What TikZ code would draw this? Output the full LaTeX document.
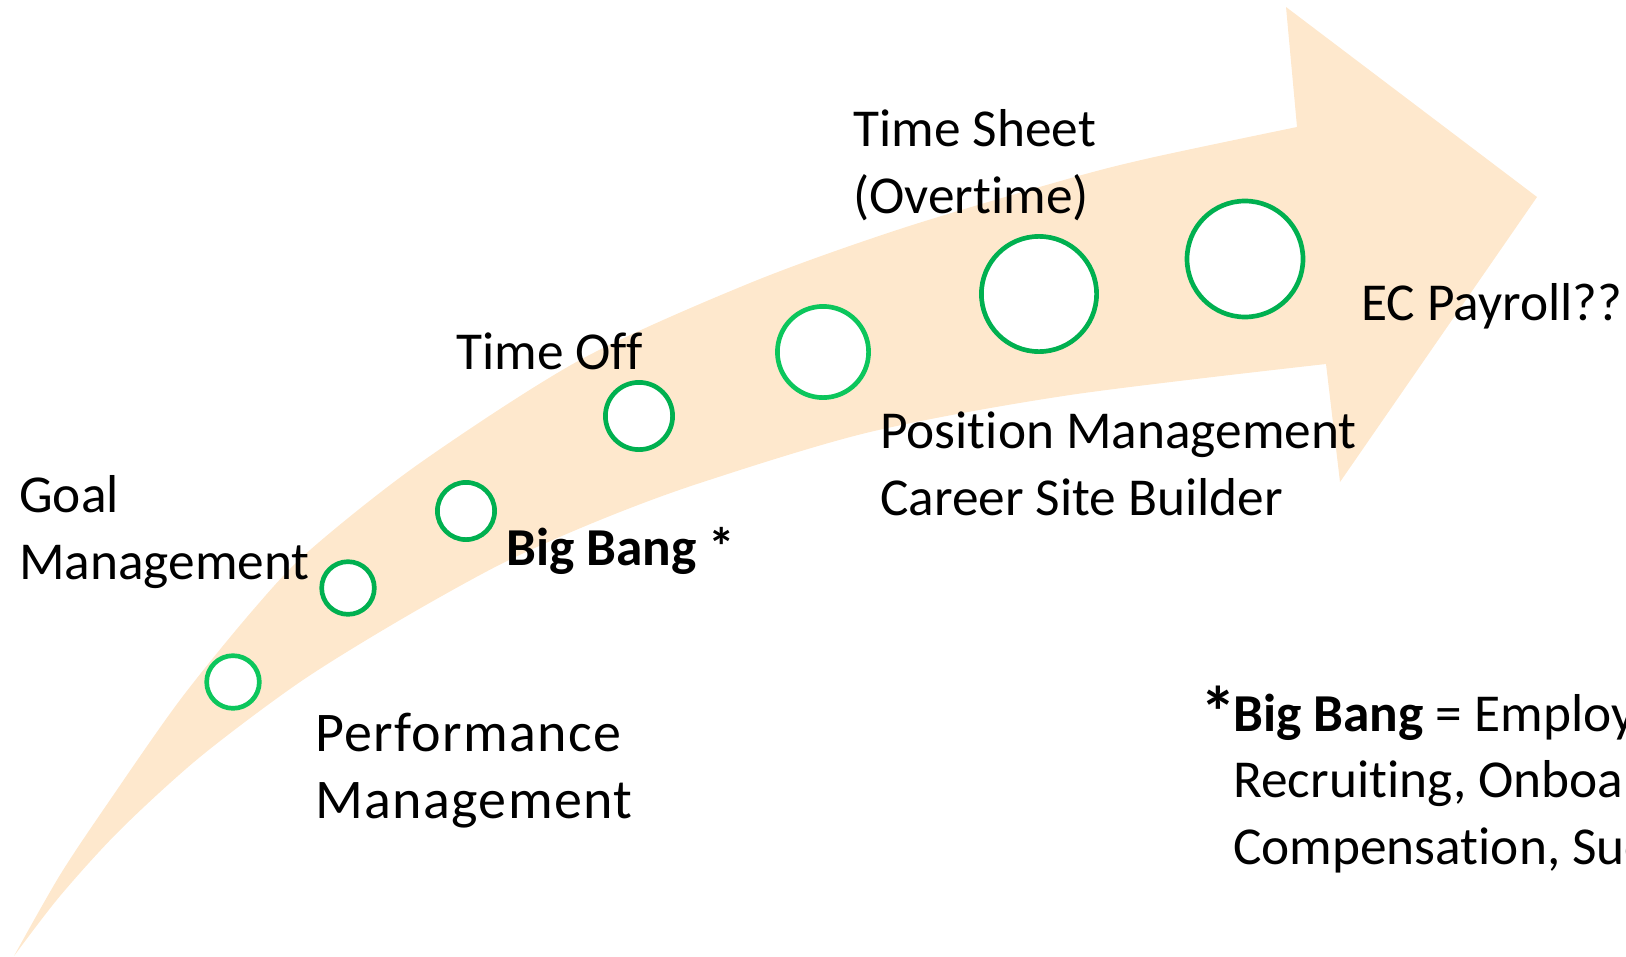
\documentclass[tikz,border=0pt]{standalone}
\usepackage{fontspec}
\setmainfont{Carlito}[Ligatures={NoCommon}]
\definecolor{peach}{HTML}{FEE8CD}
\definecolor{ringdark}{HTML}{00B050}
\definecolor{ringlight}{HTML}{0CC65C}
\begin{document}
\begin{tikzpicture}[x=0.75pt,y=-0.75pt,
  milestone/.style={circle, draw=ringdark, fill=white, line width=3.5pt, inner sep=0pt},
  lbl/.style={anchor=base west, inner sep=0pt, align=left,
              font=\fontsize{40pt}{49.8pt}\selectfont},
]
\useasboundingbox (0,0) rectangle (1626,956);
\clip (0,0) rectangle (1626,956);

% curved roadmap arrow
\fill[peach] (14,956)
  -- plot[smooth] coordinates {(14,956) (60,875) (110,800) (180,700) (253,610)
        (310,550) (420,463) (580,360) (750,283) (900,229) (1064,180) (1150,158) (1297,127)}
  -- (1286,7) -- (1537,197) -- (1340,482)
  -- plot[smooth] coordinates {(1326,364) (1070,395) (870,432) (700,483) (600,520)
        (503,563) (400,620) (300,682) (200,757) (120,830) (60,896) (14,956)}
  -- cycle;

% milestones along the arrow
\node[milestone, draw=ringlight, minimum size=39.5pt] (m1) at (233,682) {};
\node[milestone, minimum size=39.5pt] (m2) at (348,588) {};
\node[milestone, minimum size=42.9pt] (m3) at (466,511) {};
\node[milestone, minimum size=50.4pt] (m4) at (639,416) {};
\node[milestone, draw=ringlight, minimum size=68.4pt] (m5) at (823,352) {};
\node[milestone, minimum size=86.4pt] (m6) at (1039,294) {};
\node[milestone, minimum size=87pt] (m7) at (1245,259) {};

% milestone captions (anchored on the baseline of their last line)
\node[lbl] (goal) at (19,579) {Goal\\Management};
\node[lbl, font=\fontsize{42pt}{49.8pt}\selectfont\addfontfeature{LetterSpace=2.4}]
  (perf) at (315,818) {Performance\\Management};
\node[lbl] (toff) at (456,369) {Time Off};
\node[lbl] (bang) at (506,565) {\textbf{Big Bang *}};
\node[lbl] (tsheet) at (853,213) {Time Sheet\\(Overtime)};
\node[lbl] (pos) at (880,515) {Position Management\\Career Site Builder};
\node[lbl] (pay) at (1361,320) {EC Payroll??};

% footnote
\node[lbl, font=\fontsize{54pt}{60pt}\selectfont] (star) at (1200,737) {\textbf{*}};
\node[lbl] (note) at (1233,864) {\textbf{Big Bang} = Employee Central,\\Recruiting, Onboarding,\\Compensation, Succession};
\end{tikzpicture}
\end{document}
